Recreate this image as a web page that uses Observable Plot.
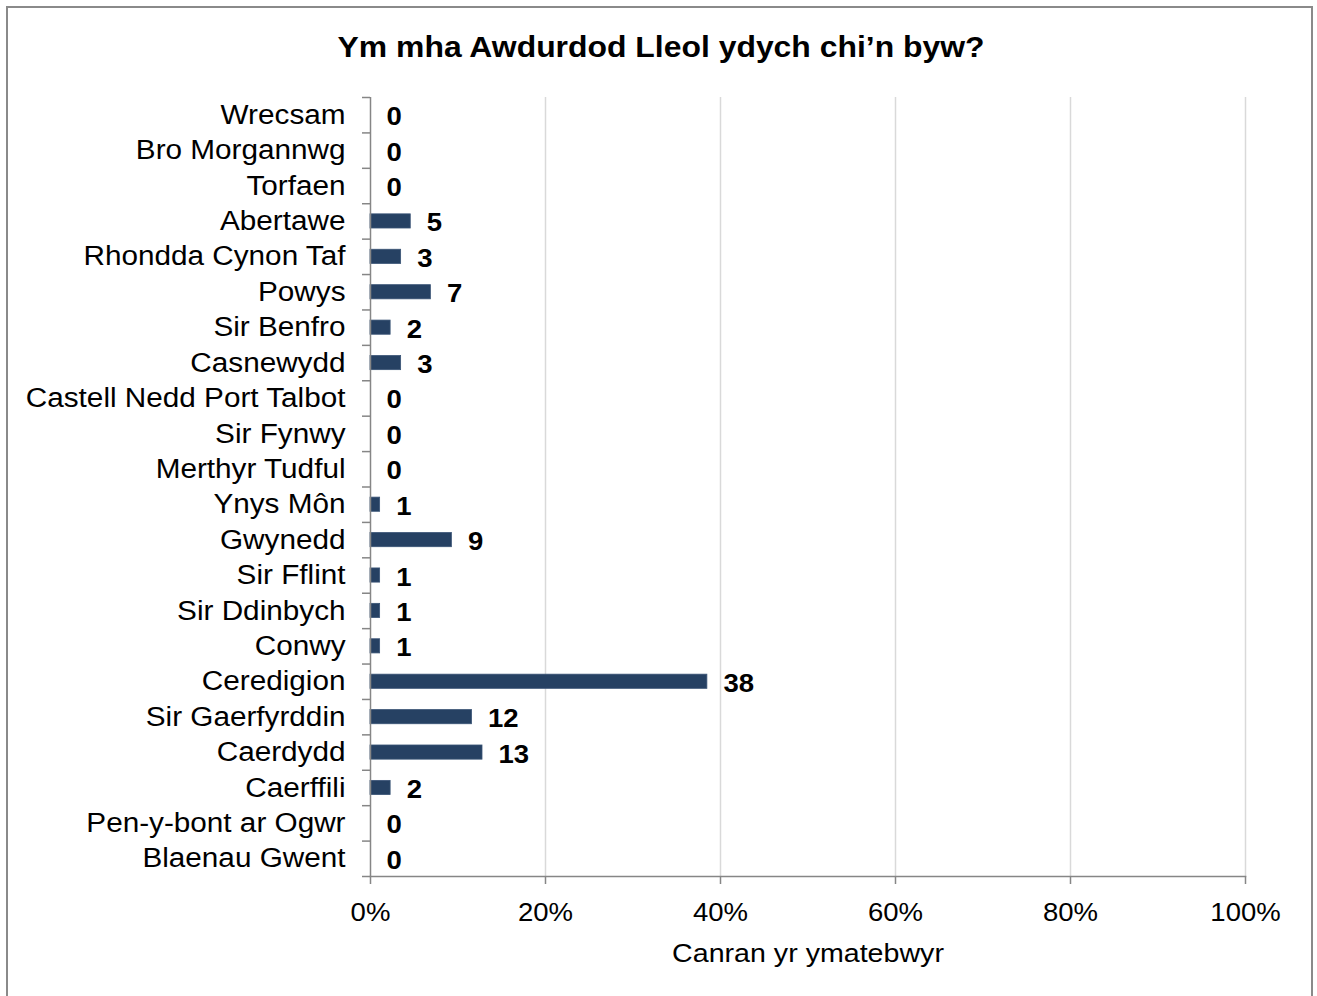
<!DOCTYPE html>
<html>
<head>
<meta charset="utf-8">
<script src="https://cdn.jsdelivr.net/npm/d3@7"></script>
<script src="https://cdn.jsdelivr.net/npm/@observablehq/plot@0.6"></script>
<style>
  html, body { margin: 0; padding: 0; background: #fff; overflow: hidden; }
  #wrap { position: relative; width: 1317px; height: 996px; font-family: "Liberation Sans", Arial, sans-serif; }
  #border { position: absolute; left: 6px; top: 6px; width: 1307px; height: 1010px; border: 2px solid #8a8a8a; box-sizing: border-box; }
  #title { position: relative; height: 80px; display: flex; align-items: center; justify-content: center; padding-top: 14px; box-sizing: border-box; }
  #title span { display: inline-block; font-weight: bold; font-size: 29px; color: #000; transform: scaleX(1.1); transform-origin: center; margin-left: 6px; }
  #chart { position: relative; }
</style>
</head>
<body>
<div id="wrap">
  <div id="border"></div>
  <div id="title"><span>Ym mha Awdurdod Lleol ydych chi’n byw?</span></div>
  <div id="chart"></div>
</div>
<script>
const categories = ["Wrecsam","Bro Morgannwg","Torfaen","Abertawe","Rhondda Cynon Taf","Powys","Sir Benfro","Casnewydd","Castell Nedd Port Talbot","Sir Fynwy","Merthyr Tudful","Ynys Môn","Gwynedd","Sir Fflint","Sir Ddinbych","Conwy","Ceredigion","Sir Gaerfyrddin","Caerdydd","Caerffili","Pen-y-bont ar Ogwr","Blaenau Gwent"];
const counts = [0,0,0,5,3,7,2,3,0,0,0,1,9,1,1,1,38,12,13,2,0,0];
const percents = [0,0,0,4.6,3.5,6.9,2.3,3.5,0,0,0,1.1,9.3,1.1,1.1,1.1,38.5,11.6,12.8,2.3,0,0];
const xTicks = [0,20,40,60,80,100];
const xLabel = "Canran yr ymatebwyr";

const data = categories.map((name, i) => ({name, count: counts[i], pct: percents[i]}));

const W = 1317, H = 916, mT = 17, mB = 120, mL = 370, mR = 72;
const step = (H - mT - mB) / categories.length;
const axisGray = "#868686";

const chart = Plot.plot({
  width: W, height: H,
  marginTop: mT, marginBottom: mB, marginLeft: mL, marginRight: mR,
  style: {fontFamily: "'Liberation Sans', Arial, sans-serif", fontSize: "26px", color: "#000", background: "transparent", overflow: "visible"},
  x: {domain: [0, 100], axis: null},
  y: {domain: categories, paddingInner: 0.6, paddingOuter: 0.3, round: false, axis: null},
  marks: [
    Plot.gridX(xTicks.filter(d => d > 0), {stroke: "#d9d9d9", strokeOpacity: 1, strokeWidth: 1.5}),
    Plot.barX(data, {y: "name", x: "pct", fill: "#264163", stroke: "#3a5476", strokeWidth: 0.8}),
    Plot.text(data, {y: "name", x: "pct", text: d => String(d.count), dx: 16, dy: 2, textAnchor: "start", fontWeight: "bold", fontSize: 25, fill: "#000"}),
    Plot.axisY({tickSize: 0, tickPadding: 25, fontSize: 27, label: null, fill: "#000"}),
    Plot.axisY({tickSize: 8, tickFormat: () => "", dy: -step / 2, stroke: axisGray, strokeWidth: 1.5, label: null}),
    Plot.axisY({ticks: [categories[categories.length - 1]], tickSize: 8, tickFormat: () => "", dy: step / 2, stroke: axisGray, strokeWidth: 1.5, label: null}),
    Plot.ruleX([0], {stroke: axisGray, strokeWidth: 1.5}),
    Plot.frame({anchor: "bottom", stroke: axisGray, strokeWidth: 1.5}),
    Plot.axisX({ticks: xTicks, tickFormat: d => d + "%", tickSize: 8, tickPadding: 19, fontSize: 25, stroke: axisGray, strokeWidth: 1.5, label: null, fill: "#000"}),
    Plot.text([xLabel], {frameAnchor: "bottom", text: d => d, dy: 85, fontSize: 26, fill: "#000"})
  ]
});

document.getElementById("chart").appendChild(chart);

// Source chart text is horizontally stretched; reproduce with textLength
d3.select(chart).selectAll("text").each(function() {
  const len = this.getComputedTextLength();
  if (len > 0) {
    this.setAttribute("textLength", (len * 1.1).toFixed(1));
    this.setAttribute("lengthAdjust", "spacingAndGlyphs");
  }
});
</script>
</body>
</html>
